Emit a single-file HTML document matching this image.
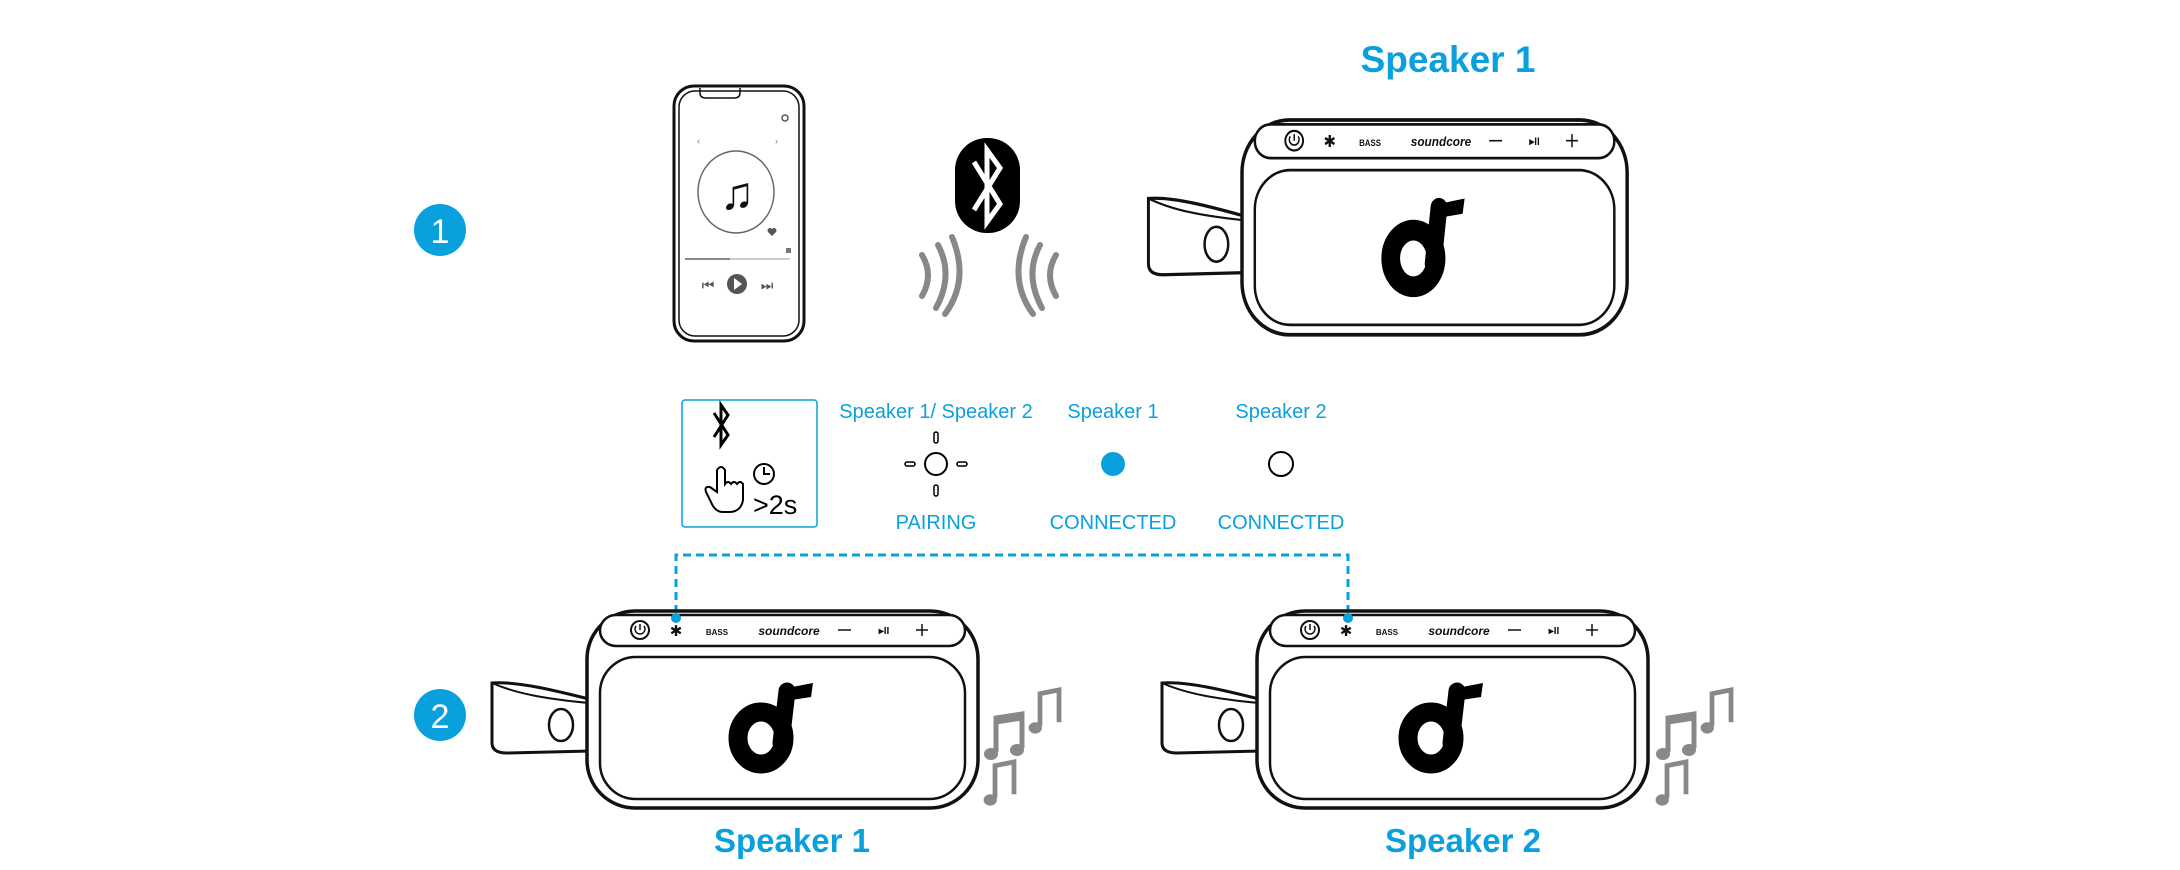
<!DOCTYPE html>
<html><head><meta charset="utf-8"><style>
html,body{margin:0;padding:0;background:#fff;}
svg{display:block;}
text{font-family:"Liberation Sans",sans-serif;}
</style></head><body>
<svg width="2180" height="870" viewBox="0 0 2180 870" xmlns="http://www.w3.org/2000/svg">
<defs>
<g id="spk">
  <!-- strap -->
  <path d="M2 88 C-30 80 -70 70 -95 72 L-95 132 C-95 140 -88 142 -80 142 L4 140" fill="#fff" stroke="#111" stroke-width="3"/>
  <path d="M-95 72 C-70 83 -40 88 2 92" fill="none" stroke="#111" stroke-width="2"/>
  <ellipse cx="-26" cy="114" rx="12" ry="16" fill="#fff" stroke="#111" stroke-width="2.5"/>
  <!-- body -->
  <rect x="0" y="0" width="391" height="197" rx="48" fill="#fff" stroke="#111" stroke-width="3.5"/>
  <rect x="13" y="4" width="365" height="31" rx="16" fill="#fff" stroke="#111" stroke-width="2.5"/>
  <rect x="13" y="46" width="365" height="142" rx="36" fill="none" stroke="#111" stroke-width="2.5"/>
  <!-- buttons -->
  <circle cx="53" cy="19" r="9" fill="none" stroke="#111" stroke-width="2"/>
  <path d="M53 13 V19 M49 15 A5 5 0 1 0 57 15" fill="none" stroke="#111" stroke-width="1.5"/>
  <text x="89" y="25" font-size="15" text-anchor="middle" fill="#111">✱</text>
  <text x="130" y="24" font-size="8" text-anchor="middle" fill="#111" font-weight="bold">BASS</text>
  <text x="202" y="24" font-size="12" text-anchor="middle" fill="#111" font-weight="bold" font-style="italic">soundcore</text>
  <line x1="251" y1="19" x2="264" y2="19" stroke="#111" stroke-width="1.5"/>
  <text x="297" y="23" font-size="10" text-anchor="middle" fill="#111" font-weight="bold">▸II</text>
  <path d="M329 19 H341 M335 13 V25" stroke="#111" stroke-width="1.5"/>
  <!-- logo -->
  <ellipse cx="174" cy="127" rx="23" ry="26" fill="none" stroke="#000" stroke-width="19"/>
  <path d="M194 132 L200 80" stroke="#000" stroke-width="17" stroke-linecap="round"/>
  <path d="M200 77 L226 72 L224 86 L198 90 Z" fill="#000"/>
</g>
<g id="note">
  <path d="M0 40 V6 L26 2 V36 M0 10 L26 6" fill="none" stroke="#888" stroke-width="5"/>
  <ellipse cx="-5" cy="42" rx="7" ry="6" fill="#888"/>
  <ellipse cx="21" cy="38" rx="7" ry="6" fill="#888"/>
</g>
<g id="note1">
  <path d="M0 40 V6 L20 2 V36" fill="none" stroke="#888" stroke-width="5"/>
  <ellipse cx="-5" cy="42" rx="7" ry="6" fill="#888"/>
</g>
</defs>

<circle cx="440" cy="230" r="26" fill="#0aa0dd"/>
<text x="440" y="243" font-size="34" text-anchor="middle" fill="#fff">1</text>
<circle cx="440" cy="715" r="26" fill="#0aa0dd"/>
<text x="440" y="728" font-size="34" text-anchor="middle" fill="#fff">2</text>

<text x="1448" y="72" font-size="37" font-weight="bold" text-anchor="middle" fill="#0aa0dd">Speaker 1</text>

<!-- phone -->
<rect x="674" y="86" width="130" height="255" rx="20" fill="#fff" stroke="#111" stroke-width="3"/>
<rect x="679" y="91" width="120" height="245" rx="16" fill="none" stroke="#111" stroke-width="1.5"/>
<path d="M700 88 v5 q0 5 6 5 h28 q6 0 6 -5 v-5" fill="none" stroke="#111" stroke-width="1.5"/>
<circle cx="785" cy="118" r="3" fill="none" stroke="#555" stroke-width="1.5"/>
<text x="697" y="144" font-size="9" fill="#777">‹</text><text x="775" y="144" font-size="9" fill="#777">›</text>
<ellipse cx="736" cy="192" rx="38" ry="41" fill="none" stroke="#666" stroke-width="1.5"/>
<text x="737" y="209" font-size="46" text-anchor="middle" fill="#111">♫</text>
<path d="M768 232 l4 4 l4 -4 a2.5 2.5 0 0 0 -4 -3 a2.5 2.5 0 0 0 -4 3z" fill="#555"/>
<rect x="786" y="248" width="5" height="5" fill="#777"/>
<line x1="685" y1="259" x2="790" y2="259" stroke="#ccc" stroke-width="2"/>
<line x1="685" y1="259" x2="730" y2="259" stroke="#888" stroke-width="2"/>
<circle cx="737" cy="284" r="10" fill="#555"/><path d="M734 278 L742 284 L734 290Z" fill="#fff"/>
<text x="708" y="290" font-size="14" text-anchor="middle" fill="#555">⏮</text>
<text x="767" y="290" font-size="14" text-anchor="middle" fill="#555">⏭</text>

<!-- bluetooth badge -->
<rect x="955" y="138" width="65" height="95" rx="32" fill="#000"/>
<path d="M974 162 L1000 204 L987 222 V150 L1000 168 L974 210" fill="none" stroke="#fff" stroke-width="5"/>
<g fill="none" stroke="#888" stroke-width="6" stroke-linecap="round">
<path d="M922 255 Q934 275 922 296"/><path d="M938 245 Q954 275 936 308"/><path d="M952 237 Q970 280 945 314"/>
<path d="M1056 255 Q1044 275 1056 296"/><path d="M1040 245 Q1024 275 1042 308"/><path d="M1026 237 Q1008 280 1033 314"/>
</g>

<g transform="translate(1242,120) scale(0.985,1.09)"><use href="#spk"/></g>

<!-- instruction box -->
<rect x="682" y="400" width="135" height="127" rx="3" fill="#fff" stroke="#0aa0dd" stroke-width="1.5"/>
<path d="M714 413 L728 435 L721 445 V405 L728 415 L714 437" fill="none" stroke="#000" stroke-width="3"/>
<circle cx="764" cy="474" r="10" fill="none" stroke="#000" stroke-width="2"/>
<path d="M764 467 V474 H770" fill="none" stroke="#000" stroke-width="2"/>
<path d="M717 492 V470 q4 -6 8 0 V484 q3 -4 6 0 q3 -4 6 0 q3 -4 6 0 V500 q-2 12 -14 12 h-6 q-8 0 -12 -10 l-5 -10 q-2 -6 4 -5z" fill="none" stroke="#000" stroke-width="2"/>
<text x="753" y="514" font-size="27" fill="#000">&gt;2s</text>

<g font-size="20" fill="#0aa0dd" text-anchor="middle">
<text x="936" y="418">Speaker 1/ Speaker 2</text>
<text x="1113" y="418">Speaker 1</text>
<text x="1281" y="418">Speaker 2</text>
<text x="936" y="529">PAIRING</text>
<text x="1113" y="529">CONNECTED</text>
<text x="1281" y="529">CONNECTED</text>
</g>
<circle cx="936" cy="464" r="11" fill="none" stroke="#000" stroke-width="2"/>
<rect x="934" y="432" width="4" height="11" rx="2" fill="none" stroke="#000" stroke-width="1.5"/>
<rect x="934" y="485" width="4" height="11" rx="2" fill="none" stroke="#000" stroke-width="1.5"/>
<rect x="905" y="462" width="10" height="4" rx="2" fill="none" stroke="#000" stroke-width="1.5"/>
<rect x="957" y="462" width="10" height="4" rx="2" fill="none" stroke="#000" stroke-width="1.5"/>
<circle cx="1113" cy="464" r="12" fill="#0aa0dd"/>
<circle cx="1281" cy="464" r="12" fill="none" stroke="#000" stroke-width="2"/>

<path d="M676 613 V555 H1348 V613" fill="none" stroke="#0aa0dd" stroke-width="3" stroke-dasharray="8 5"/>

<g transform="translate(587,611)"><use href="#spk"/></g>
<g transform="translate(1257,611)"><use href="#spk"/></g>
<circle cx="676" cy="618" r="5" fill="#0aa0dd"/>
<circle cx="1348" cy="618" r="5" fill="#0aa0dd"/>

<g transform="translate(996,712)"><use href="#note"/></g>
<g transform="translate(1040,688) scale(0.95)"><use href="#note1"/></g>
<g transform="translate(995,760) scale(0.95)"><use href="#note1"/></g>
<g transform="translate(1668,712)"><use href="#note"/></g>
<g transform="translate(1712,688) scale(0.95)"><use href="#note1"/></g>
<g transform="translate(1667,760) scale(0.95)"><use href="#note1"/></g>

<text x="792" y="852" font-size="33" font-weight="bold" text-anchor="middle" fill="#0aa0dd">Speaker 1</text>
<text x="1463" y="852" font-size="33" font-weight="bold" text-anchor="middle" fill="#0aa0dd">Speaker 2</text>
</svg>
</body></html>
